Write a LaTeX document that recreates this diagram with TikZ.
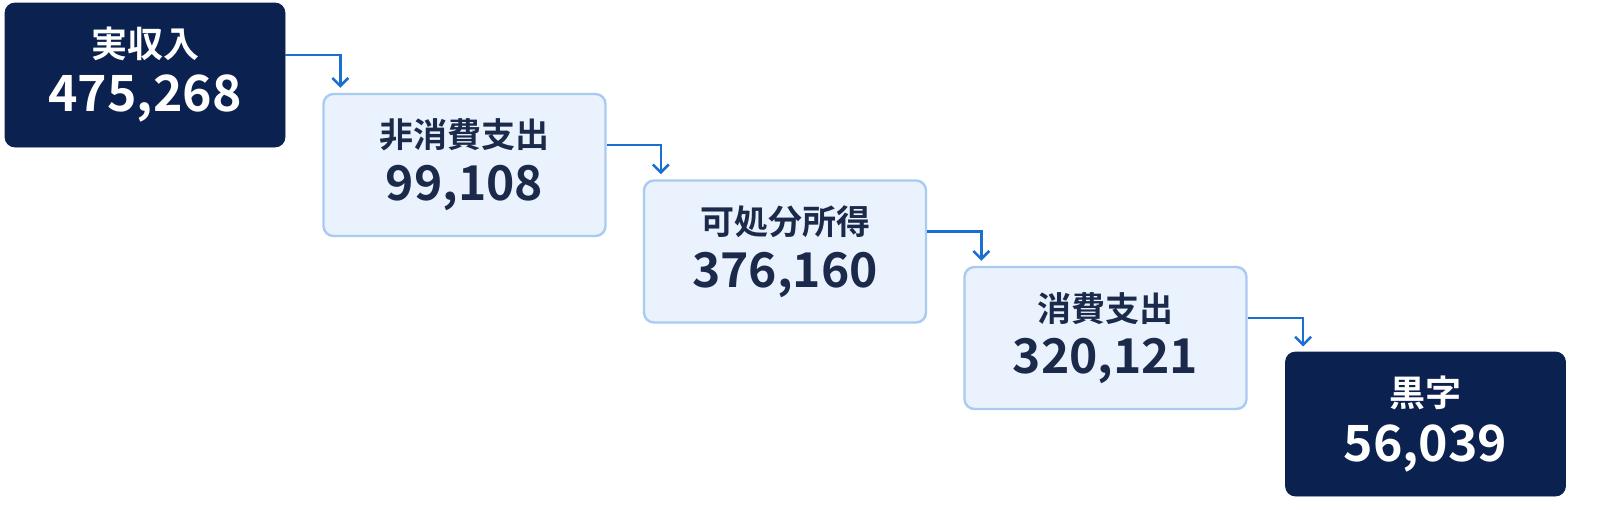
\documentclass[tikz,border=0pt]{standalone}
\usepackage{fontspec}
\setmainfont{Noto Sans CJK JP}[BoldFont={* Bold}]
\usetikzlibrary{arrows.meta}
\definecolor{navy}{HTML}{0B2150}
\definecolor{pale}{HTML}{EAF3FD}
\definecolor{paleline}{HTML}{A9CBF2}
\definecolor{flow}{HTML}{1A6FD1}
\definecolor{ink}{HTML}{1B2A4A}
\begin{document}
\begin{tikzpicture}[x=0.5pt,y=-0.5pt,
  darkbox/.style={fill=navy,draw=navy,rounded corners=5pt,minimum width=140pt,minimum height=72pt,
    text=white,align=center,font=\bfseries,inner sep=0pt},
  lightbox/.style={fill=pale,draw=paleline,line width=1.2pt,rounded corners=5pt,minimum width=141pt,minimum height=71pt,
    text=ink,align=center,font=\bfseries,inner sep=0pt},
  flowarrow/.style={draw=flow,line width=1.3pt,-{Straight Barb[length=4pt,width=8pt]},shorten >=2.5pt}]
        \useasboundingbox (0,0) rectangle (1600,509);
        \fill[white] (0,0) rectangle (1600,509);

        %boxes
        \node[darkbox] (A) at (145,75) {{\fontsize{18}{24}\selectfont 実収入}\\[6pt]{\fontsize{25}{28}\selectfont 475,268}};
        \node[lightbox] (B) at (464.5,165) {{\fontsize{17}{24}\selectfont 非消費支出}\\[6pt]{\fontsize{24}{28}\selectfont 99,108}};
        \node[lightbox] (C) at (785,251.5) {{\fontsize{17}{24}\selectfont 可処分所得}\\[6pt]{\fontsize{24}{28}\selectfont 376,160}};
        \node[lightbox] (D) at (1105.5,338) {{\fontsize{17}{24}\selectfont 消費支出}\\[6pt]{\fontsize{24}{28}\selectfont 320,121}};
        \node[darkbox] (E) at (1425.5,424) {{\fontsize{18}{24}\selectfont 黒字}\\[6pt]{\fontsize{25}{28}\selectfont 56,039}};

        %arrows
        \draw[flowarrow] ([yshift=10pt]A.east) -| ([xshift=9pt]B.north west);
        \draw[flowarrow] ([yshift=10pt]B.east) -| ([xshift=9pt]C.north west);
        \draw[flowarrow] ([yshift=10pt]C.east) -| ([xshift=9pt]D.north west);
        \draw[flowarrow] ([yshift=10pt]D.east) -| ([xshift=9pt]E.north west);
\end{tikzpicture}
\end{document}
